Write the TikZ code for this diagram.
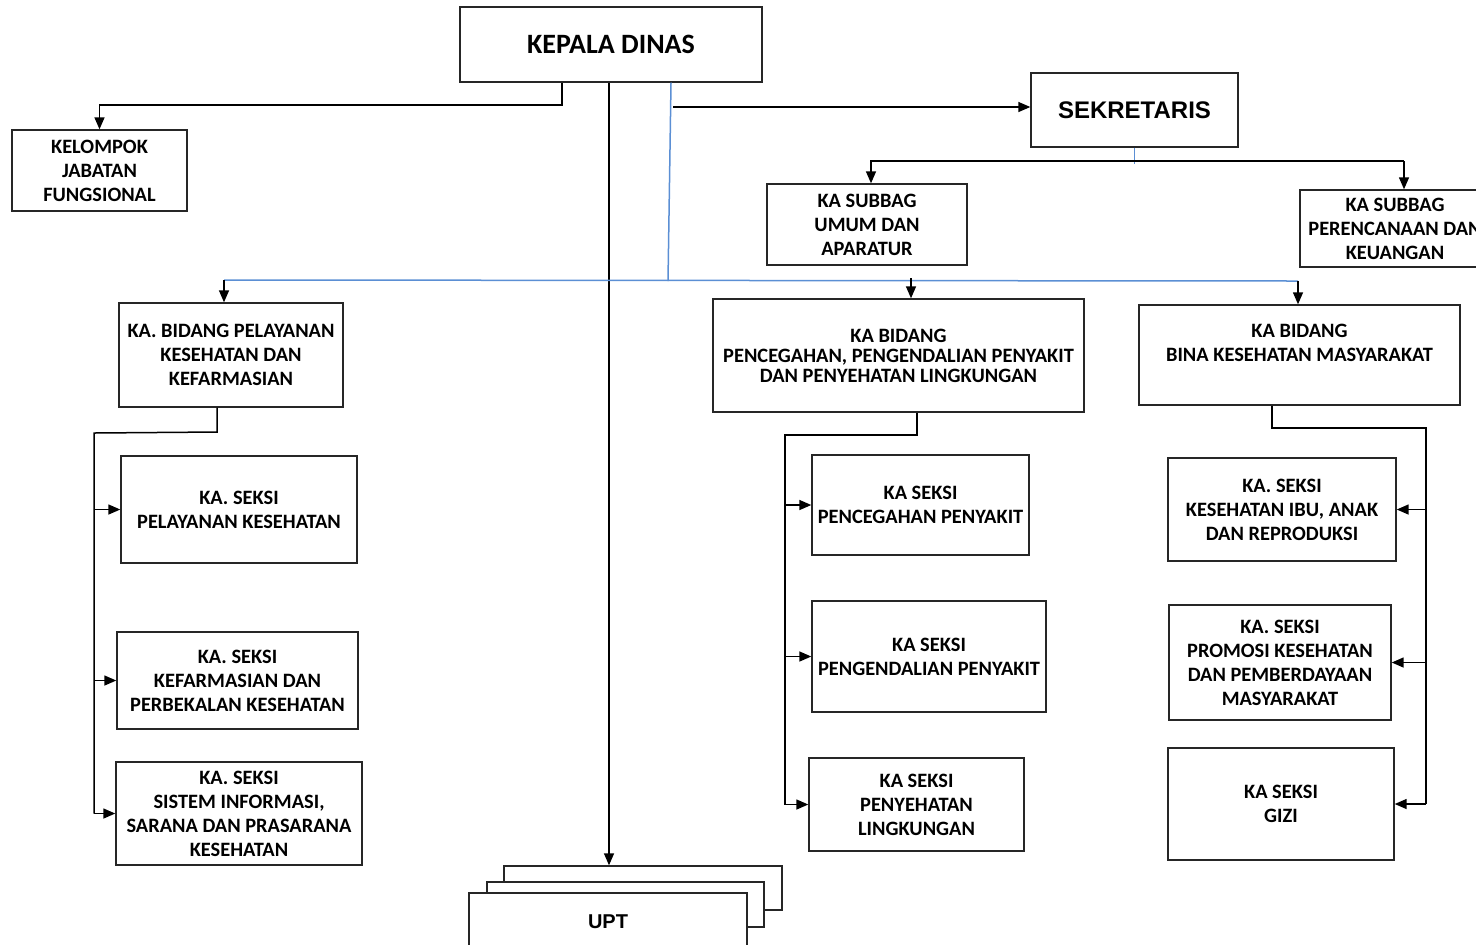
\documentclass[tikz,border=0pt]{standalone}
\usepackage{fontspec}
\setmainfont{Carlito}
\newfontfamily\arialfont{Liberation Sans}
\usetikzlibrary{arrows.meta}

\definecolor{linkblue}{RGB}{91,143,212}

\tikzset{
  box/.style={draw=black!85, line width=0.7pt, fill=white, align=center,
    inner sep=1pt, font=\bfseries\fontsize{10.2}{12}\selectfont},
  arr/.style={-{Triangle[length=6pt,width=5pt]}, line width=0.75pt},
  sidearr/.style={-{Triangle[length=6pt,width=5pt]}, line width=0.75pt},
  blueline/.style={draw=linkblue, line width=0.75pt},
}

\begin{document}
\begin{tikzpicture}[x=0.5pt, y=-0.5pt]
    \useasboundingbox (0,0) rectangle (1476,944);

    % top level
    \node[box, minimum width=151pt, minimum height=37.5pt,
      font=\bfseries\fontsize{14}{16}\selectfont] (kadis) at (611,44.5) {KEPALA DINAS};
    \node[box, minimum width=87.5pt, minimum height=40.5pt] (jabfung) at (99.5,170.5)
      {KELOMPOK\\JABATAN\\FUNGSIONAL};
    \node[box, minimum width=103.5pt, minimum height=37pt,
      font=\arialfont\bfseries\fontsize{12}{14}\selectfont] (sekre) at (1134.5,110) {SEKRETARIS};

    % subbagian
    \node[box, minimum width=100pt, minimum height=40.5pt] (subumum) at (867,224.5)
      {KA SUBBAG\\UMUM DAN\\APARATUR};
    \node[box, minimum width=95pt, minimum height=38.5pt] (subren) at (1395,228.5)
      {KA SUBBAG\\PERENCANAAN DAN\\KEUANGAN};

    % bidang
    \node[box, minimum width=112pt, minimum height=52pt] (bidyan) at (231,355)
      {KA. BIDANG PELAYANAN\\KESEHATAN DAN\\KEFARMASIAN};
    \node[box, minimum width=185.5pt, minimum height=56.5pt,
      font=\bfseries\fontsize{10.2}{10}\selectfont] (bidp2p) at (898.5,355.5)
      {KA BIDANG\\PENCEGAHAN, PENGENDALIAN PENYAKIT\\DAN PENYEHATAN LINGKUNGAN};
    \node[box, minimum width=160.5pt, minimum height=50pt] (bidkesmas) at (1299.5,355)
      {KA BIDANG\\BINA KESEHATAN MASYARAKAT\\\mbox{}};

    % seksi bidang pelayanan
    \node[box, minimum width=118pt, minimum height=53.5pt] (syan) at (239,509.5)
      {KA. SEKSI\\PELAYANAN KESEHATAN};
    \node[box, minimum width=120.5pt, minimum height=48.5pt] (sfarm) at (237.5,680.5)
      {KA. SEKSI\\KEFARMASIAN DAN\\PERBEKALAN KESEHATAN};
    \node[box, minimum width=123pt, minimum height=51.5pt] (ssik) at (239,813.5)
      {KA. SEKSI\\SISTEM INFORMASI,\\SARANA DAN PRASARANA\\KESEHATAN};

    % seksi bidang p2p
    \node[box, minimum width=108.5pt, minimum height=50pt] (scegah) at (920.5,505)
      {KA SEKSI\\PENCEGAHAN PENYAKIT};
    \node[box, minimum width=117pt, minimum height=55.5pt] (skendali) at (929,656.5)
      {KA SEKSI\\PENGENDALIAN PENYAKIT};
    \node[box, minimum width=107.5pt, minimum height=46.5pt] (ssling) at (916.5,804.5)
      {KA SEKSI\\PENYEHATAN\\LINGKUNGAN};

    % seksi bidang kesmas
    \node[box, minimum width=114pt, minimum height=51.5pt] (skia) at (1282,509.5)
      {KA. SEKSI\\KESEHATAN IBU, ANAK\\DAN REPRODUKSI};
    \node[box, minimum width=111pt, minimum height=57.5pt] (spromkes) at (1280,662.5)
      {KA. SEKSI\\PROMOSI KESEHATAN\\DAN PEMBERDAYAAN\\MASYARAKAT};
    \node[box, minimum width=113pt, minimum height=56pt] (sgizi) at (1281,804)
      {KA SEKSI\\GIZI};

    % upt (stacked)
    \node[box, minimum width=139pt, minimum height=22pt] (upt3) at (643,888) {};
    \node[box, minimum width=138.5pt, minimum height=22.5pt] (upt2) at (625.5,904.5) {};
    \node[box, minimum width=139pt, minimum height=29pt,
      font=\arialfont\bfseries\fontsize{10}{12}\selectfont] (upt) at (608,922) {UPT};

    % junction points
    \coordinate (kj) at (562,105);
    \coordinate (kv) at (609,0);
    \coordinate (ks) at (673,107);
    \coordinate (kb) at (671,0);
    \coordinate (bc) at (668,281);
    \coordinate (bl) at (224,280);
    \coordinate (br) at (1298,281);
    \coordinate (bm) at (911,278);
    \coordinate (sl) at (871,161);
    \coordinate (sr) at (1404,161);
    \coordinate (yd) at (217,432);
    \coordinate (yv) at (94,433);
    \coordinate (pd) at (917,435);
    \coordinate (pv) at (785,435);
    \coordinate (md) at (1272,428);
    \coordinate (mv) at (1426,428);

    % kepala dinas
    \draw[arr] (kadis.south -| kj) -- (kj) -- (kj -| jabfung.north) -- (jabfung.north);
    \draw[arr] (kadis.south -| kv) -- (upt3.north -| kv);
    \draw[arr] (ks) -- (sekre.west |- ks);
    \draw[blueline] (kadis.south -| kb) -- (bc);
    \draw[blueline] (bl) -- (br);
    \draw[arr] (bl) -- (bl |- bidyan.north);
    \draw[arr] (bm) -- (bm |- bidp2p.north);
    \draw[arr] (br) -- (br |- bidkesmas.north);

    % sekretaris
    \draw[blueline] (sekre.south) -- ++(0,16);
    \draw[arr] (sr) -- (sl) -- (sl |- subumum.north);
    \draw[arr] (sr) -- (sr |- subren.north);

    % bidang -> seksi
    \draw[line width=0.75pt] (bidyan.south -| yd) -- (yd) -- (yv) -- (yv |- ssik.west);
    \foreach \n in {syan,sfarm,ssik}
        \draw[sidearr] (yv |- \n.west) -- (\n.west);

    \draw[line width=0.75pt] (bidp2p.south -| pd) -- (pd) -- (pv) -- (pv |- ssling.west);
    \foreach \n in {scegah,skendali,ssling}
        \draw[sidearr] (pv |- \n.west) -- (\n.west);

    \draw[line width=0.75pt] (bidkesmas.south -| md) -- (md) -- (mv) -- (mv |- sgizi.east);
    \foreach \n in {skia,spromkes,sgizi}
        \draw[sidearr] (mv |- \n.east) -- (\n.east);

\end{tikzpicture}
\end{document}
